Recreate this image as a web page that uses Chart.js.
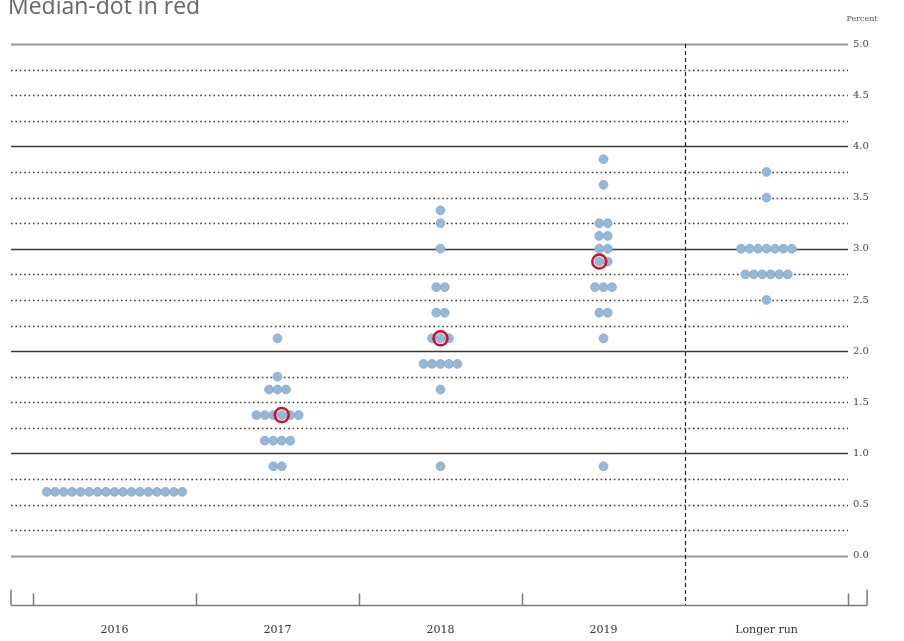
<!DOCTYPE html>
<html>
<head>
<meta charset="utf-8">
<script src="https://cdn.jsdelivr.net/npm/chart.js@4/dist/chart.umd.min.js"></script>
<style>
  html, body { margin: 0; padding: 0; background: #fff; }
  #wrap { width: 904px; height: 641px; }
</style>
</head>
<body>
<div id="wrap"><canvas id="dots" width="904" height="641"></canvas></div>
<script>
// one projection per FOMC participant, per year
var categories = ['2016', '2017', '2018', '2019', 'Longer run'];
var dots2016 = [0.625, 0.625, 0.625, 0.625, 0.625, 0.625, 0.625, 0.625, 0.625,
                0.625, 0.625, 0.625, 0.625, 0.625, 0.625, 0.625, 0.625];
var dots2017 = [0.875, 0.875, 1.125, 1.125, 1.125, 1.125,
                1.375, 1.375, 1.375, 1.375, 1.375, 1.375,
                1.625, 1.625, 1.625, 1.75, 2.125];
var dots2018 = [0.875, 1.625, 1.875, 1.875, 1.875, 1.875, 1.875,
                2.125, 2.125, 2.125, 2.375, 2.375, 2.625, 2.625,
                3.0, 3.25, 3.375];
var dots2019 = [0.875, 2.125, 2.375, 2.375, 2.625, 2.625, 2.625,
                2.875, 2.875, 3.0, 3.0, 3.125, 3.125, 3.25, 3.25,
                3.625, 3.875];
var dotsLonger = [2.5, 2.75, 2.75, 2.75, 2.75, 2.75, 2.75,
                  3.0, 3.0, 3.0, 3.0, 3.0, 3.0, 3.0, 3.5, 3.75];
var showMedian = [false, true, true, true, false];
var yTicks = [0, 0.5, 1, 1.5, 2, 2.5, 3, 3.5, 4, 4.5, 5];

var allYears = [dots2016, dots2017, dots2018, dots2019, dotsLonger];
var dotStep = 0.052; // horizontal spacing between dots, in category units

var dotPoints = [];
var medianPoints = [];
allYears.forEach(function(list, c) {
  var rows = {};
  list.forEach(function(v) { rows[v] = (rows[v] || 0) + 1; });
  var sorted = list.slice().sort(function(a, b) { return a - b; });
  var med = sorted[Math.floor(sorted.length / 2)];
  var medRank = Math.floor(sorted.length / 2) - sorted.indexOf(med); // place within its row
  Object.keys(rows).forEach(function(k) {
    var v = parseFloat(k), n = rows[k];
    for (var j = 0; j < n; j++) {
      var x = c + 0.5 + (j - (n - 1) / 2) * dotStep;
      dotPoints.push({x: x, y: v});
      // rows are counted right to left for the median
      if (showMedian[c] && v === med && (n - 1 - j) === medRank) {
        medianPoints.push({x: x, y: v});
      }
    }
  });
});

var gridPlugin = {
  id: 'dotGrid',
  beforeDatasetsDraw: function(chart) {
    var ctx = chart.ctx, a = chart.chartArea;
    var xs = chart.scales.x, ys = chart.scales.y;
    ctx.save();
    for (var k = 0; k <= 20; k++) {
      var v = k * 0.25;
      var y = Math.round(ys.getPixelForValue(v)) + 0.5;
      ctx.beginPath();
      if (k % 4 === 0) {
        ctx.setLineDash([]);
        ctx.strokeStyle = (k === 0 || k === 20) ? '#9a9a9a' : '#3a3a3a';
        ctx.lineWidth = (k === 0 || k === 20) ? 1.8 : 1.4;
      } else {
        ctx.setLineDash([1.6, 2.8]);
        ctx.strokeStyle = '#3c3c3c';
        ctx.lineWidth = 1.3;
      }
      ctx.moveTo(a.left, y);
      ctx.lineTo(a.right, y);
      ctx.stroke();
    }
    // dashed divider before the longer run
    var xd = Math.round(xs.getPixelForValue(4)) + 0.5;
    ctx.setLineDash([4, 3]);
    ctx.strokeStyle = '#222';
    ctx.lineWidth = 1.2;
    ctx.beginPath();
    ctx.moveTo(xd, a.top);
    ctx.lineTo(xd, a.bottom);
    ctx.stroke();

    // bottom axis with its bracket ticks
    ctx.setLineDash([]);
    ctx.strokeStyle = '#7a7a7a';
    ctx.lineWidth = 1.5;
    var yb = a.bottom + 0.5;
    var xEnd = xs.getPixelForValue(5.117);
    ctx.beginPath();
    ctx.moveTo(a.left, yb);
    ctx.lineTo(xEnd, yb);
    [a.left, xEnd].forEach(function(px) {
      ctx.moveTo(px, yb);
      ctx.lineTo(px, yb - 16);
    });
    [0, 1, 2, 3, 5].forEach(function(v) {
      var px = Math.round(xs.getPixelForValue(v)) + 0.5;
      ctx.moveTo(px, yb);
      ctx.lineTo(px, yb - 12);
    });
    ctx.stroke();
    ctx.restore();
  },
  afterDraw: function(chart) {
    var ctx = chart.ctx;
    ctx.save();
    ctx.fillStyle = '#666';
    ctx.font = '23px "Open Sans", sans-serif';
    ctx.textBaseline = 'alphabetic';
    ctx.fillText('Median-dot in red', 8, 14);
    ctx.fillStyle = '#555';
    ctx.font = '8px "DejaVu Serif", serif';
    ctx.textAlign = 'center';
    ctx.fillText('Percent', 862, 21);
    ctx.restore();
  }
};

new Chart(document.getElementById('dots'), {
  type: 'scatter',
  data: {
    datasets: [
      {
        label: 'Median',
        data: medianPoints,
        pointRadius: 7,
        pointHoverRadius: 7,
        pointBackgroundColor: 'rgba(0,0,0,0)',
        pointBorderColor: '#d0102a',
        pointBorderWidth: 2.5,
        order: 0
      },
      {
        label: 'Participants',
        data: dotPoints,
        pointRadius: 4.4,
        pointHoverRadius: 4.4,
        pointBackgroundColor: '#95b8d8',
        pointBorderColor: '#82a7ca',
        pointBorderWidth: 0.8,
        order: 1
      }
    ]
  },
  options: {
    responsive: false,
    animation: false,
    events: [],
    layout: { padding: { left: 11, top: 44, right: 0, bottom: 0 } },
    plugins: { legend: { display: false }, tooltip: { enabled: false } },
    scales: {
      x: {
        type: 'linear',
        min: -0.135,
        max: 5,
        grid: { display: false, drawTicks: false },
        border: { display: false },
        afterBuildTicks: function(scale) {
          scale.ticks = categories.map(function(c, i) { return {value: i + 0.5}; });
        },
        afterFit: function(scale) { scale.height = 36; },
        ticks: {
          padding: 19,
          maxRotation: 0,
          autoSkip: false,
          color: '#333',
          font: { family: '"DejaVu Serif", serif', size: 11 },
          callback: function(value, index) { return categories[index]; }
        }
      },
      y: {
        position: 'right',
        min: -0.48,
        max: 5,
        grid: { display: false, drawTicks: false },
        border: { display: false },
        afterBuildTicks: function(scale) {
          scale.ticks = yTicks.map(function(v) { return {value: v}; });
        },
        afterFit: function(scale) { scale.width = 56; },
        ticks: {
          padding: 5,
          color: '#444',
          font: { family: '"DejaVu Serif", serif', size: 10 },
          callback: function(value) { return Number(value).toFixed(1); }
        }
      }
    }
  },
  plugins: [gridPlugin]
});
</script>
</body>
</html>
